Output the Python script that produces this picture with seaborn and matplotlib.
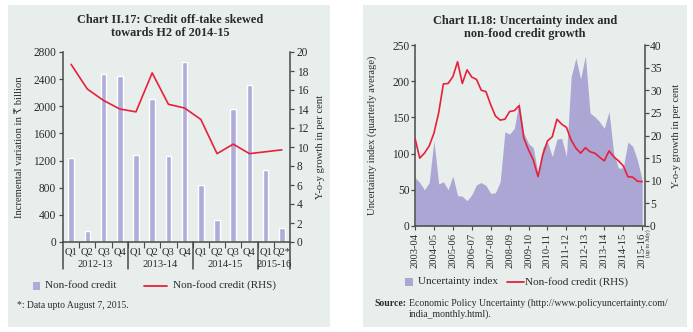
import numpy as np
import pandas as pd
import matplotlib
matplotlib.use("Agg")
import matplotlib.pyplot as plt
import matplotlib.transforms as mtrans
from matplotlib.patches import Rectangle
from matplotlib.lines import Line2D
import seaborn as sns

# ---- Chart II.17 data: quarterly non-food credit ----
quarter_labels = ["Q1", "Q2", "Q3", "Q4", "Q1", "Q2", "Q3", "Q4",
                  "Q1", "Q2", "Q3", "Q4", "Q1", "Q2*"]
fiscal_years = ["2012-13", "2013-14", "2014-15", "2015-16"]
quarters_per_year = [4, 4, 4, 2]
incremental_credit = [1244, 158, 2476, 2452, 1278, 2103, 1263, 2658,
                      846, 320, 1966, 2314, 1061, 212]          # ₹ billion
credit_growth_q = [18.7, 16.1, 14.9, 14.0, 13.7, 17.8, 14.5, 14.1,
                   12.9, 9.3, 10.3, 9.3, 9.5, 9.7]              # y-o-y, per cent

# ---- Chart II.18 data: quarterly, 2003-04 Q1 to 2015-16 Q1 ----
year_labels = ["2003-04", "2004-05", "2005-06", "2006-07", "2007-08",
               "2008-09", "2009-10", "2010-11", "2011-12", "2012-13",
               "2013-14", "2014-15", "2015-16"]
uncertainty_index = [67, 60, 50, 60, 118, 58, 61, 50, 69, 42, 41, 35, 43,
                     57, 60, 56, 45, 46, 61, 130, 127, 135, 172, 128, 114,
                     108, 72, 108, 116, 96, 120, 121, 96, 206, 232, 203, 235,
                     156, 151, 144, 135, 158, 100, 80, 80, 116, 110, 91, 64]
nonfood_growth = [19.4, 15.0, 16.1, 17.7, 20.5, 25.0, 31.4, 31.5, 33.0, 36.3,
                  31.5, 34.5, 32.9, 32.4, 30.0, 29.7, 26.8, 24.3, 23.4, 23.6,
                  25.3, 25.5, 26.6, 19.4, 16.8, 14.6, 10.9, 15.7, 18.8, 19.7,
                  23.6, 22.5, 21.8, 19.0, 17.2, 16.1, 17.3, 16.4, 16.1, 15.2,
                  14.4, 16.6, 15.3, 14.4, 13.3, 10.9, 10.8, 9.9, 9.8]

BAR = "#b0acd8"
AREA = "#aba6d3"
RED = "#e8203c"
PANEL = "#e7eeeb"
SPINE = "#4a4a4a"
TXT = "#2b2b2b"

sns.set_style("ticks")
plt.rcParams["font.family"] = ["Liberation Serif", "DejaVu Serif", "DejaVu Sans"]
plt.rcParams["font.size"] = 7.5
plt.rcParams["text.color"] = TXT
plt.rcParams["axes.labelcolor"] = TXT
plt.rcParams["xtick.color"] = SPINE
plt.rcParams["ytick.color"] = SPINE
plt.rcParams["xtick.labelcolor"] = TXT
plt.rcParams["ytick.labelcolor"] = TXT

W, H = 693, 332
fig = plt.figure(figsize=(W / 100, H / 100), dpi=100)
fig.patch.set_facecolor("white")


def fx(x):
    return x / W


def fy(y):
    return 1 - y / H


# panel backgrounds
for x0, x1 in [(8, 330), (363, 687)]:
    fig.patches.append(Rectangle((fx(x0), fy(327)), fx(x1 - x0), (327 - 5) / H,
                                 transform=fig.transFigure, facecolor=PANEL,
                                 edgecolor="none", zorder=-5))


def style_axis(ax, side):
    ax.patch.set_visible(False)
    for s in ["top", "left", "right", "bottom"]:
        ax.spines[s].set_visible(False)
    ax.spines[side].set_visible(True)
    ax.spines[side].set_color(SPINE)
    ax.spines[side].set_linewidth(1.1)


# ================= Chart II.17 =================
axL = fig.add_axes([fx(63), fy(242), fx(290 - 63), (242 - 52) / H])
pos = np.arange(len(incremental_credit))
bars_df = pd.DataFrame({"pos": pos, "credit": incremental_credit})
sns.barplot(data=bars_df, x="pos", y="credit", color=BAR, width=0.34,
            saturation=1, ax=axL, zorder=2)
axL.set_xlim(-0.5, len(pos) - 0.5)
axL.set_ylim(0, 2800)
axL.set_yticks(range(0, 2801, 400))
style_axis(axL, "left")
axL.spines["bottom"].set_visible(True)
axL.spines["bottom"].set_color(SPINE)
axL.spines["bottom"].set_linewidth(1.1)
axL.set_xticks(pos)
axL.set_xticklabels(quarter_labels)
axL.tick_params(axis="x", length=0, pad=4, labelsize=7.6)
axL.set_xticks(np.arange(0.5, len(pos) - 1, 1), minor=True)
axL.tick_params(axis="x", which="minor", length=4, width=0.8, color=SPINE)
axL.tick_params(axis="y", length=3, width=0.9, labelsize=8.3, pad=2)
axL.set_xlabel("")
axL.set_ylabel("Incremental variation in ₹ billion", fontsize=7.6)
axL.yaxis.set_label_coords(-0.172, 0.5)

# fiscal-year groups under the quarter labels
trL = mtrans.blended_transform_factory(axL.transData, axL.transAxes)
start = -0.5
for fyear, n in zip(fiscal_years, quarters_per_year):
    axL.text(start + n / 2, -0.118, fyear, transform=trL, ha="center",
             va="center", fontsize=7.6)
    start += n
for b in np.cumsum([0] + quarters_per_year) - 0.5:
    axL.add_line(Line2D([b, b], [0, -0.14], transform=trL, color=SPINE,
                        lw=1.1, clip_on=False))

axL2 = axL.twinx()
sns.lineplot(x=pos, y=credit_growth_q, color=RED, lw=1.2, ax=axL2, zorder=3)
axL2.set_ylim(0, 20)
axL2.set_yticks(range(0, 21, 2))
style_axis(axL2, "right")
axL2.tick_params(axis="y", length=3, width=0.9, labelsize=8.3, pad=2)
axL2.set_ylabel("Y-o-y growth in per cent", fontsize=7.6)
axL2.yaxis.set_label_coords(1.115, 0.5)

fig.text(fx(170), fy(20), "Chart II.17: Credit off-take skewed",
         ha="center", va="center", fontsize=8.8, fontweight="bold")
fig.text(fx(170), fy(33), "towards H2 of 2014-15",
         ha="center", va="center", fontsize=8.8, fontweight="bold")

# legend and note
fig.patches.append(Rectangle((fx(33), fy(290)), fx(7), 8 / H,
                             transform=fig.transFigure, facecolor=BAR,
                             edgecolor="none"))
fig.text(fx(45), fy(285.5), "Non-food credit", va="center", fontsize=8)
fig.lines.append(Line2D([fx(144), fx(167)], [fy(285.5), fy(285.5)],
                        transform=fig.transFigure, color=RED, lw=1.3))
fig.text(fx(173), fy(285.5), "Non-food credit (RHS)", va="center", fontsize=8)
fig.text(fx(17), fy(305), "*: Data upto August 7, 2015.", va="center",
         fontsize=6.9)

# ================= Chart II.18 =================
axR = fig.add_axes([fx(415), fy(226), fx(644.5 - 415), (226 - 45) / H])
idx = np.arange(len(uncertainty_index))
axR.fill_between(idx, 0, uncertainty_index, color=AREA, lw=0, zorder=1)
axR.set_xlim(0, len(idx) - 0.5)
axR.set_ylim(0, 250)
axR.set_yticks(range(0, 251, 50))
style_axis(axR, "left")
axR.spines["bottom"].set_visible(True)
axR.spines["bottom"].set_color(SPINE)
axR.spines["bottom"].set_linewidth(1.1)
axR.set_xticks(np.arange(0, len(idx), 4))
axR.set_xticklabels(year_labels, rotation=90, fontsize=7.6)
axR.tick_params(axis="x", length=3, width=0.8, pad=2)
axR.tick_params(axis="y", length=3, width=0.9, labelsize=8.3, pad=1)
axR.set_ylabel("Uncertainty index (quarterly average)", fontsize=7.6)
axR.yaxis.set_label_coords(-0.166, 0.5)

axR2 = axR.twinx()
sns.lineplot(x=idx, y=nonfood_growth, color=RED, lw=1.2, ax=axR2, zorder=3)
axR2.set_ylim(0, 40)
axR2.set_yticks(range(0, 41, 5))
style_axis(axR2, "right")
axR2.tick_params(axis="y", length=3, width=0.9, labelsize=8.3, pad=1)
axR2.set_ylabel("Y-o-y growth in per cent", fontsize=7.6)
axR2.yaxis.set_label_coords(1.12, 0.5)

trR = mtrans.blended_transform_factory(axR.transData, axR.transAxes)
axR.text(48 + 1.3, -0.02, "(up to July)", transform=trR, rotation=90,
         ha="center", va="top", fontsize=4.3)

fig.text(fx(525), fy(21), "Chart II.18: Uncertainty index and",
         ha="center", va="center", fontsize=8.8, fontweight="bold")
fig.text(fx(525), fy(34), "non-food credit growth",
         ha="center", va="center", fontsize=8.8, fontweight="bold")

fig.patches.append(Rectangle((fx(405), fy(286)), fx(7.5), 8 / H,
                             transform=fig.transFigure, facecolor=AREA,
                             edgecolor="none"))
fig.text(fx(418), fy(282), "Uncertainty index", va="center", fontsize=8)
fig.lines.append(Line2D([fx(507), fx(524)], [fy(282), fy(282)],
                        transform=fig.transFigure, color=RED, lw=1.3))
fig.text(fx(525), fy(282), "Non-food credit (RHS)", va="center", fontsize=8)

fig.text(fx(374), fy(303.5), "Source:", va="center", fontsize=7,
         fontweight="bold")
fig.text(fx(409), fy(303.5),
         "Economic Policy Uncertainty (http://www.policyuncertainty.com/",
         va="center", fontsize=7)
fig.text(fx(409), fy(314), "india_monthly.html).", va="center", fontsize=7)

fig.savefig("out.png", dpi=100, facecolor="white")
